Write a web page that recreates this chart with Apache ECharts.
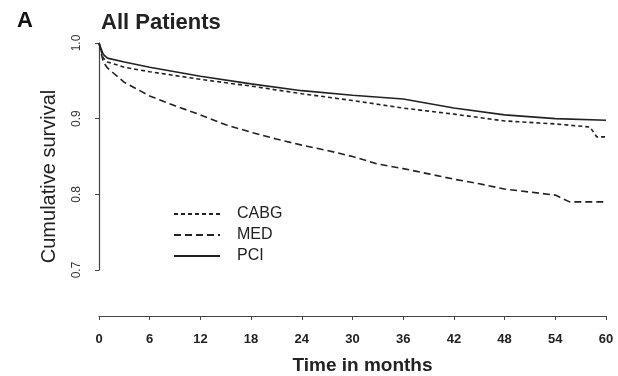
<!DOCTYPE html>
<html>
<head>
<meta charset="utf-8">
<script src="https://cdn.jsdelivr.net/npm/echarts@6/dist/echarts.min.js"></script>
<style>
  html, body { margin: 0; padding: 0; background: #fff; }
  #chart { width: 618px; height: 376px; }
</style>
</head>
<body>
<div id="chart"></div>
<script>
// 数据：生存曲线（月份 / 累计生存率）
var cabgTime = [0, 0.5, 1, 3, 6, 12, 18, 24, 30, 36, 42, 48, 54, 58.1, 58.9, 60];
var cabgSurv = [1.0, 0.98, 0.975, 0.968, 0.962, 0.952, 0.943, 0.933, 0.924, 0.914, 0.906, 0.897, 0.893, 0.889, 0.876, 0.876];

var medTime = [0, 0.5, 1, 3, 6, 9, 12, 15, 18, 21, 24, 27, 30, 33, 36, 39, 42, 45, 48, 51, 54, 55.7, 60];
var medSurv = [1.0, 0.975, 0.967, 0.948, 0.930, 0.917, 0.905, 0.892, 0.882, 0.873, 0.865, 0.858, 0.850, 0.840, 0.834, 0.827, 0.820, 0.814, 0.807, 0.803, 0.799, 0.790, 0.790];

var pciTime = [0, 0.5, 1, 3, 6, 12, 18, 24, 30, 36, 42, 48, 54, 60];
var pciSurv = [1.0, 0.985, 0.98, 0.975, 0.968, 0.956, 0.946, 0.937, 0.931, 0.926, 0.914, 0.905, 0.900, 0.898];

var seriesNames = ['CABG', 'MED', 'PCI'];

function pairs(t, s) {
    return t.map(function (v, i) { return [v, s[i]]; });
}

var myChart = echarts.init(document.getElementById('chart'));

var font = 'Liberation Sans, Arial, sans-serif';

var option = {
    animation: false,
    backgroundColor: '#fff',
    title: [
        { text: 'A', left: 12, top: 5, textStyle: { fontSize: 22, fontWeight: 'bold', color: '#111', fontFamily: font } },
        { text: 'All Patients', left: 96, top: 7, textStyle: { fontSize: 22, fontWeight: 'bold', color: '#222', fontFamily: font } }
    ],
    legend: {
        orient: 'vertical',
        left: 168,
        top: 201,
        itemWidth: 46,
        itemHeight: 14,
        itemGap: 5,
        data: seriesNames,
        itemStyle: { color: 'rgba(0,0,0,0)', borderWidth: 0, opacity: 0 },
        textStyle: { fontSize: 16, color: '#222', fontFamily: font, padding: [0, 0, 0, 12] }
    },
    grid: { left: 99, right: 12, top: 43, bottom: 106, outerBoundsMode: 'none', containLabel: false },
    xAxis: {
        type: 'value',
        min: 0,
        max: 60,
        interval: 6,
        offset: 46,
        name: 'Time in months',
        nameLocation: 'middle',
        nameGap: 40,
        nameTextStyle: { fontSize: 19, fontWeight: 'bold', color: '#222', fontFamily: font, padding: [0, 0, 0, 20] },
        axisLine: { lineStyle: { color: '#444', width: 1.2 } },
        axisTick: { length: 4, lineStyle: { color: '#444' } },
        axisLabel: { fontSize: 13, fontWeight: 'bold', color: '#222', margin: 17, fontFamily: font },
        splitLine: { show: false }
    },
    yAxis: {
        type: 'value',
        min: 0.7,
        max: 1.0,
        interval: 0.1,
        name: 'Cumulative survival',
        nameLocation: 'middle',
        nameGap: 40,
        nameTextStyle: { fontSize: 20, color: '#222', fontFamily: font, padding: [0, 40, 0, 0] },
        axisLine: { lineStyle: { color: '#444', width: 1.2 } },
        axisTick: { length: 4, lineStyle: { color: '#444' } },
        axisLabel: {
            rotate: 90,
            fontSize: 12,
            color: '#333',
            margin: 16,
            fontFamily: font,
            formatter: function (v) { return v.toFixed(1); }
        },
        splitLine: { show: false }
    },
    series: [
        {
            name: 'CABG',
            type: 'line',
            symbol: 'none',
            data: pairs(cabgTime, cabgSurv),
            lineStyle: { color: '#222', width: 1.6, type: [4, 3] },
            itemStyle: { color: '#222' }
        },
        {
            name: 'MED',
            type: 'line',
            symbol: 'none',
            data: pairs(medTime, medSurv),
            lineStyle: { color: '#222', width: 1.6, type: [7, 4] },
            itemStyle: { color: '#222' }
        },
        {
            name: 'PCI',
            type: 'line',
            symbol: 'none',
            data: pairs(pciTime, pciSurv),
            lineStyle: { color: '#222', width: 1.6 },
            itemStyle: { color: '#222' }
        }
    ]
};

myChart.setOption(option);
</script>
</body>
</html>
